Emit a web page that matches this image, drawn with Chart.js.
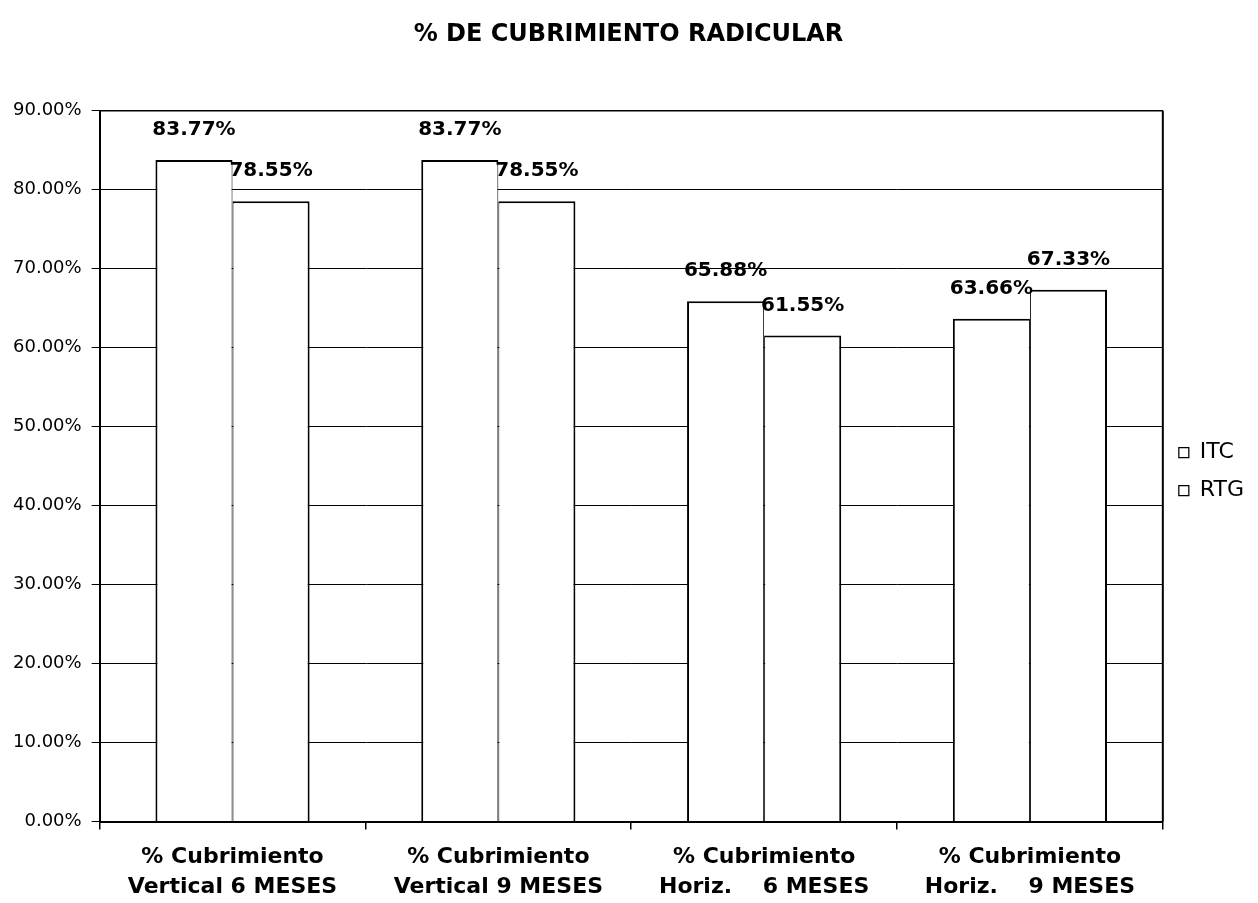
<!DOCTYPE html>
<html>
<head>
<meta charset="utf-8">
<script src="https://cdn.jsdelivr.net/npm/chart.js@4"></script>
<style>
html,body{margin:0;padding:0;background:#fff;overflow:hidden}
#wrap{width:1258px;height:903px}
</style>
</head>
<body>
<div id="wrap"><canvas id="c" width="1258" height="903"></canvas></div>
<script>
const chartTitle = '% DE CUBRIMIENTO RADICULAR';
const categories = [
  ['% Cubrimiento', 'Vertical 6 MESES'],
  ['% Cubrimiento', 'Vertical 9 MESES'],
  ['% Cubrimiento', 'Horiz.    6 MESES'],
  ['% Cubrimiento', 'Horiz.    9 MESES']
];
const seriesNames = ['ITC', 'RTG'];
const itcValues = [83.77, 83.77, 65.88, 63.66];
const rtgValues = [78.55, 78.55, 61.55, 67.33];
const yTickValues = [0, 10, 20, 30, 40, 50, 60, 70, 80, 90];
const yTickLabels = ['0.00%', '10.00%', '20.00%', '30.00%', '40.00%', '50.00%', '60.00%', '70.00%', '80.00%', '90.00%'];

const FAM = "'DejaVu Sans', 'Liberation Sans', Arial, sans-serif";
Chart.defaults.font.family = FAM;
Chart.defaults.color = '#000';

const valueLabels = {
  id: 'valueLabels',
  afterDatasetsDraw(chart) {
    const ctx = chart.ctx;
    ctx.save();
    ctx.font = 'bold 20px ' + FAM;
    ctx.fillStyle = '#000';
    ctx.textAlign = 'center';
    ctx.textBaseline = 'middle';
    chart.data.datasets.forEach((ds, di) => {
      const meta = chart.getDatasetMeta(di);
      meta.data.forEach((el, i) => {
        ctx.fillText(ds.data[i].toFixed(2) + '%', el.x, el.y - 30);
      });
    });
    ctx.restore();
  }
};

const plotFrame = {
  id: 'plotFrame',
  afterDatasetsDraw(chart) {
    const {ctx, chartArea} = chart;
    ctx.save();
    ctx.strokeStyle = '#000';
    ctx.lineWidth = 2;
    ctx.beginPath();
    ctx.moveTo(chartArea.right, chartArea.top);
    ctx.lineTo(chartArea.right, chartArea.bottom);
    ctx.stroke();
    ctx.lineWidth = 1.5;
    ctx.beginPath();
    ctx.moveTo(chartArea.left, chartArea.top);
    ctx.lineTo(chartArea.right, chartArea.top);
    ctx.stroke();
    ctx.restore();
  }
};

new Chart(document.getElementById('c'), {
  type: 'bar',
  data: {
    labels: categories,
    datasets: [
      {
        label: seriesNames[0],
        data: itcValues,
        backgroundColor: '#fff',
        borderColor: '#000',
        borderWidth: {top: 2, left: 2, right: 1, bottom: 0},
        categoryPercentage: 0.58,
        barPercentage: 1.0
      },
      {
        label: seriesNames[1],
        data: rtgValues,
        backgroundColor: '#fff',
        borderColor: '#000',
        borderWidth: {top: 2, left: 1, right: 2, bottom: 0},
        categoryPercentage: 0.58,
        barPercentage: 1.0
      }
    ]
  },
  options: {
    responsive: false,
    animation: false,
    layout: {padding: {left: 3, right: 4, top: 0, bottom: -12}},
    plugins: {
      title: {
        display: true,
        text: chartTitle,
        color: '#000',
        font: {size: 24, weight: 'bold', family: FAM, lineHeight: 1.2},
        padding: {top: 20, bottom: 62}
      },
      legend: {
        display: true,
        position: 'right',
        title: {
          display: true,
          text: '',
          font: {size: 10, lineHeight: 1},
          padding: {top: 18, bottom: 0}
        },
        labels: {
          boxWidth: 10,
          boxHeight: 10,
          padding: 16,
          color: '#000',
          font: {size: 22, family: FAM}
        }
      },
      tooltip: {enabled: false}
    },
    scales: {
      x: {
        grid: {display: true, drawOnChartArea: false, drawTicks: true, tickLength: 8, color: '#000', offset: true, lineWidth: 1.5},
        border: {display: true, color: '#000', width: 2},
        ticks: {
          color: '#000',
          font: {size: 22, weight: 'bold', family: FAM, lineHeight: 1.35},
          padding: 13,
          maxRotation: 0,
          autoSkip: false
        }
      },
      y: {
        min: 0,
        max: 90,
        afterBuildTicks(scale) {
          scale.ticks = yTickValues.map(v => ({value: v}));
        },
        grid: {display: true, drawOnChartArea: true, drawTicks: true, tickLength: 8, color: '#000', lineWidth: 1},
        border: {display: true, color: '#000', width: 2},
        ticks: {
          color: '#000',
          font: {size: 18, family: FAM},
          padding: 10,
          callback: (v, i) => yTickLabels[i]
        }
      }
    }
  },
  plugins: [valueLabels, plotFrame]
});
</script>
</body>
</html>
